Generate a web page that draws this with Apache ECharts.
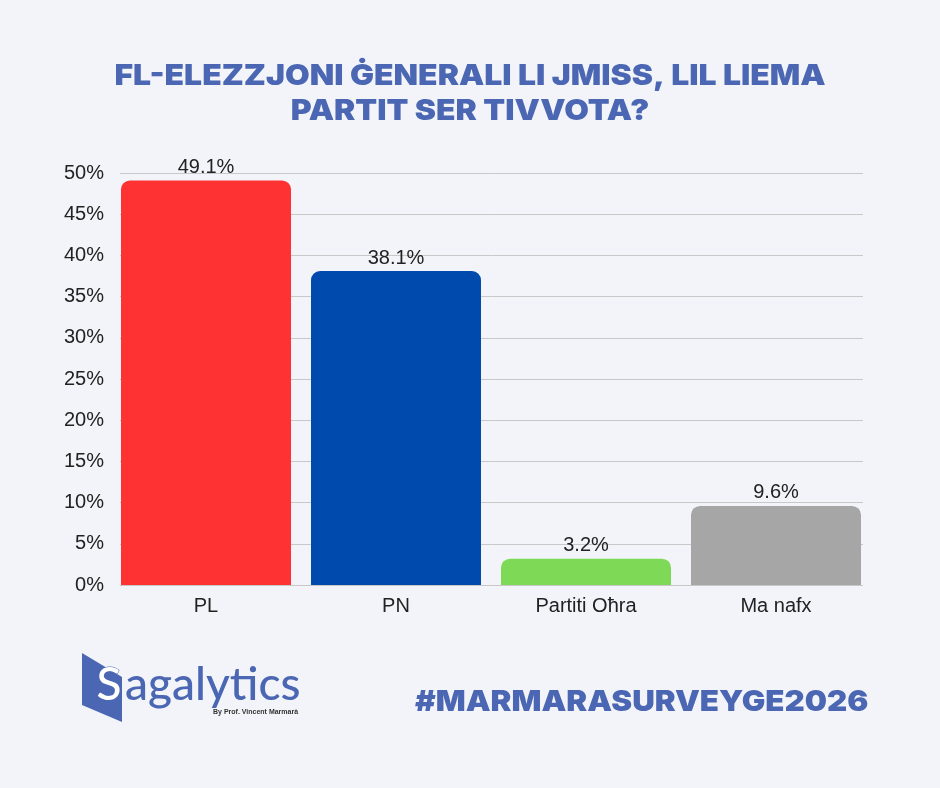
<!DOCTYPE html>
<html><head><meta charset="utf-8">
<script src="https://cdn.jsdelivr.net/npm/echarts@6/dist/echarts.min.js"></script>
<style>html,body{margin:0;padding:0;background:#f2f4f9;}#c{width:940px;height:788px;}</style>
</head><body><div id="c"></div>
<script>
const categories = ['PL', 'PN', 'Partiti Oħra', 'Ma nafx'];
const values = [49.1, 38.1, 3.2, 9.6];
const barColors = ['#fe3232', '#004aad', '#7ed957', '#a6a6a6'];
const titleLines = ['FL-ELEZZJONI ĠENERALI LI JMISS, LIL LIEMA', 'PARTIT SER TIVVOTA?'];
const hashtag = '#MARMARASURVEYGE2026';

const blue = '#4b67b3';
const txtFont = 'Liberation Sans, Arial, sans-serif';
const chart = echarts.init(document.getElementById('c'), null, {renderer: 'canvas'});
chart.setOption({
  backgroundColor: '#f2f4f9',
  animation: false,
  grid: [
    {left: 111, right: 69, top: 173, bottom: 203},
    {left: 120, right: 77, top: 173, bottom: 203}
  ],
  xAxis: [{
    type: 'category', data: categories, gridIndex: 0,
    axisLine: {show: false},
    axisTick: {show: false},
    axisLabel: {color: '#222', fontSize: 20, fontFamily: txtFont, margin: 11}
  }, {
    type: 'value', gridIndex: 1, min: 0, max: 1, show: false
  }],
  yAxis: [{
    type: 'value', gridIndex: 0, min: 0, max: 50, interval: 5, show: false
  }, {
    type: 'value', gridIndex: 1, min: 0, max: 50, interval: 5, z: 0,
    axisLabel: {formatter: '{value}%', color: '#222', fontSize: 20, fontFamily: txtFont, margin: 16},
    splitLine: {lineStyle: {color: '#c8c8c8', width: 1}},
    axisLine: {show: false}, axisTick: {show: false}
  }],
  series: [{
    type: 'bar', xAxisIndex: 0, yAxisIndex: 0, z: 5,
    data: values.map((v, i) => ({value: v, itemStyle: {color: barColors[i]}})),
    barCategoryGap: 20,
    barWidth: 170,
    itemStyle: {borderRadius: [9, 9, 0, 0]},
    label: {show: true, position: 'top', formatter: '{c}%', color: '#222', fontSize: 20, fontFamily: txtFont, distance: 3}
  }],
  graphic: [
    {type: 'text', x: 470, y: 76, scaleX: 1.1, style: {text: titleLines[0], fill: blue, font: '900 29px Inter, sans-serif', textAlign: 'center', textVerticalAlign: 'middle', shadowColor: 'rgba(0,0,0,0.25)', shadowBlur: 2, shadowOffsetY: 1}},
    {type: 'text', x: 470, y: 111, scaleX: 1.1, style: {text: titleLines[1], fill: blue, font: '900 29px Inter, sans-serif', textAlign: 'center', textVerticalAlign: 'middle', shadowColor: 'rgba(0,0,0,0.25)', shadowBlur: 2, shadowOffsetY: 1}},
    {type: 'polygon', shape: {points: [[82, 653], [122, 677], [122, 722], [82, 705]]}, style: {fill: blue}},
    {type: 'text', left: 96, top: 662, style: {text: 'S', fill: '#ffffff', font: '500 46px Lato, sans-serif', stroke: blue, lineWidth: 1}},
    {type: 'text', left: 125, top: 662, style: {text: 'agalytics', fill: blue, font: '500 46px Lato, sans-serif'}},
    {type: 'text', left: 213, top: 709, style: {text: 'By Prof. Vincent Marmarà', fill: '#333', font: 'bold 7px Liberation Sans, sans-serif'}},
    {type: 'text', x: 415, y: 702, scaleX: 1.08, style: {text: hashtag, fill: blue, font: '900 29px Inter, sans-serif', textAlign: 'left', textVerticalAlign: 'middle'}}
  ]
});
</script></body></html>
